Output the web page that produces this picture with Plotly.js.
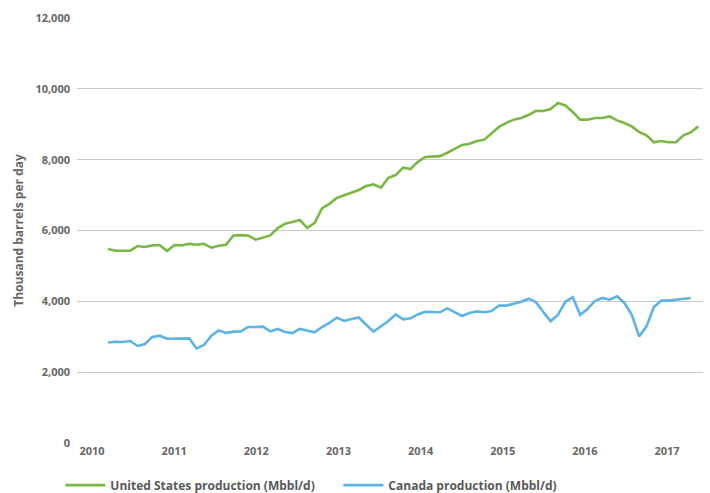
<!DOCTYPE html>
<html>
<head>
<meta charset="utf-8">
<script src="https://cdn.plot.ly/plotly-3.0.1.min.js"></script>
<style>html,body{margin:0;padding:0;background:#fff;}#chart{width:710px;height:493px;}</style>
</head>
<body>
<div id="chart"></div>
<script>
// Series values (thousand barrels per day)
const usProduction = [
  5480, 5430, 5430, 5430, 5560, 5535, 5580, 5590, 5420, 5590,
  5580, 5625, 5600, 5625, 5515, 5570, 5600, 5860, 5870, 5860,
  5740, 5800, 5860, 6070, 6190, 6240, 6295, 6075, 6210, 6625,
  6750, 6920, 7000, 7065, 7145, 7255, 7300, 7210, 7490, 7565,
  7775, 7735, 7940, 8075, 8085, 8100, 8195, 8310, 8415, 8450,
  8525, 8565, 8755, 8925, 9040, 9130, 9175, 9260, 9380, 9375,
  9430, 9600, 9530, 9345, 9130, 9130, 9175, 9175, 9220, 9110,
  9035, 8940, 8780, 8685, 8490, 8525, 8490, 8490, 8685, 8770,
  8940
];
const canadaProduction = [
  2840, 2860, 2850, 2880, 2740, 2795, 2995, 3030, 2945, 2945,
  2965, 2955, 2670, 2765, 3030, 3180, 3105, 3145, 3150, 3275,
  3275, 3285, 3150, 3220, 3135, 3105, 3220, 3170, 3125, 3275,
  3390, 3540, 3445, 3500, 3545, 3340, 3145, 3295, 3445, 3630,
  3490, 3520, 3630, 3705, 3690, 3690, 3800, 3700, 3585, 3670,
  3715, 3690, 3725, 3880, 3880, 3935, 3990, 4075, 3980, 3700,
  3435, 3620, 3990, 4120, 3620, 3785, 4010, 4095, 4045, 4140,
  3955, 3620, 3010, 3295, 3840, 4025, 4020, 4045, 4065, 4095
];
const seriesNames = ['United States production (Mbbl/d)', 'Canada production (Mbbl/d)'];
const yearLabels = ['2010', '2011', '2012', '2013', '2014', '2015', '2016', '2017'];
const yTickValues = [0, 2000, 4000, 6000, 8000, 10000, 12000];

// time position of each observation (decimal years)
const tStart = 2010.195, tStep = 0.0898;
const timeOf = (arr) => arr.map((_, i) => tStart + i * tStep);

const fontFamily = '"Open Sans", "Liberation Sans", sans-serif';
const grey = '#666666';

const traces = [
  {x: timeOf(usProduction), y: usProduction, name: seriesNames[0], type: 'scatter', mode: 'lines',
   line: {color: '#7bb843', width: 2.6}},
  {x: timeOf(canadaProduction), y: canadaProduction, name: seriesNames[1], type: 'scatter', mode: 'lines',
   line: {color: '#5cb3e4', width: 2.6}}
];

const layout = {
  width: 710, height: 493,
  margin: {l: 77, r: 7, t: 18, b: 50, autoexpand: false},
  paper_bgcolor: '#ffffff', plot_bgcolor: '#ffffff',
  font: {family: fontFamily, color: grey},
  showlegend: true,
  legend: {orientation: 'h', xref: 'container', x: 0.085, xanchor: 'left',
           yref: 'container', y: 0.016, yanchor: 'middle',
           font: {family: fontFamily, size: 12, color: '#595959', weight: 700},
           entrywidth: 223, entrywidthmode: 'pixels', itemwidth: 40, tracegroupgap: 0},
  xaxis: {
    range: [2009.817, 2017.438], tickmode: 'array',
    tickvals: yearLabels.map(Number), ticktext: yearLabels,
    showgrid: false, zeroline: false, showline: false, ticks: '',
    tickfont: {family: fontFamily, size: 11, color: grey, weight: 700}
  },
  yaxis: {
    range: [0, 12000], tickmode: 'array', tickvals: yTickValues,
    ticktext: yTickValues.map(v => v.toLocaleString('en-US')),
    showgrid: true, gridcolor: '#c9c9c9', gridwidth: 1.3, zeroline: false, showline: false, ticks: '',
    ticklabelstandoff: 6,
    tickfont: {family: fontFamily, size: 11, color: grey, weight: 700},
    title: {text: 'Thousand barrels per day', standoff: 9,
            font: {family: fontFamily, size: 12, color: grey, weight: 700}}
  }
};

Plotly.newPlot('chart', traces, layout, {displayModeBar: false, staticPlot: true});
</script>
</body>
</html>
